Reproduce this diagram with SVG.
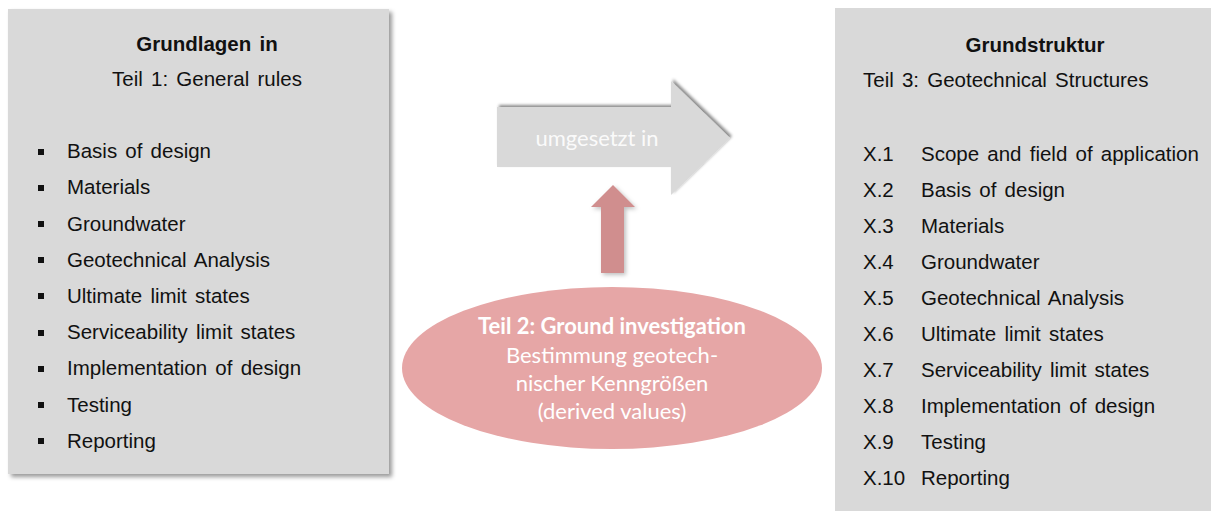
<svg xmlns="http://www.w3.org/2000/svg" width="1211" height="511" viewBox="0 0 1211 511">
<style>
.t{font-family:"Liberation Sans",Arial,sans-serif;font-size:20.5px;fill:#111;word-spacing:2.5px}
.b{font-weight:bold}
.c{font-family:Lato,"Open Sans",sans-serif;fill:#fff}
</style>
<defs>
<filter id="sh" x="-5%" y="-5%" width="115%" height="115%">
<feDropShadow dx="3" dy="3" stdDeviation="2" flood-color="#000" flood-opacity="0.4"/>
</filter>
<filter id="ash" x="-10%" y="-20%" width="130%" height="140%">
<feDropShadow dx="2" dy="-2" stdDeviation="1.5" flood-color="#000" flood-opacity="0.45"/>
</filter>
<filter id="ush" x="-20%" y="-10%" width="150%" height="130%">
<feDropShadow dx="2" dy="2" stdDeviation="2" flood-color="#000" flood-opacity="0.25"/>
</filter>
</defs>
<rect width="1211" height="511" fill="#fff"/>
<g id="left-box">
<rect x="8" y="9" width="381" height="465" fill="#d9d9d9" filter="url(#sh)"/>
<text class="t b" x="207" y="51" text-anchor="middle">Grundlagen in</text>
<text class="t" x="207" y="86" text-anchor="middle">Teil 1: General rules</text>
<g fill="#111">
<rect x="38" y="149" width="6" height="6"/>
<rect x="38" y="185" width="6" height="6"/>
<rect x="38" y="221" width="6" height="6"/>
<rect x="38" y="257" width="6" height="6"/>
<rect x="38" y="293" width="6" height="6"/>
<rect x="38" y="330" width="6" height="6"/>
<rect x="38" y="366" width="6" height="6"/>
<rect x="38" y="402" width="6" height="6"/>
<rect x="38" y="438" width="6" height="6"/>
</g>
<text class="t" x="67" y="158">Basis of design</text>
<text class="t" x="67" y="194">Materials</text>
<text class="t" x="67" y="231">Groundwater</text>
<text class="t" x="67" y="267">Geotechnical Analysis</text>
<text class="t" x="67" y="303">Ultimate limit states</text>
<text class="t" x="67" y="339">Serviceability limit states</text>
<text class="t" x="67" y="375">Implementation of design</text>
<text class="t" x="67" y="412">Testing</text>
<text class="t" x="67" y="448">Reporting</text>
</g>
<g id="right-box">
<rect x="835" y="8" width="390" height="520" fill="#d9d9d9"/>
<text class="t b" x="1035" y="52" text-anchor="middle">Grundstruktur</text>
<text class="t" x="863" y="87">Teil 3: Geotechnical Structures</text>
<text class="t" x="863" y="161">X.1</text><text class="t" x="921" y="161">Scope and field of application</text>
<text class="t" x="863" y="197">X.2</text><text class="t" x="921" y="197">Basis of design</text>
<text class="t" x="863" y="233">X.3</text><text class="t" x="921" y="233">Materials</text>
<text class="t" x="863" y="269">X.4</text><text class="t" x="921" y="269">Groundwater</text>
<text class="t" x="863" y="305">X.5</text><text class="t" x="921" y="305">Geotechnical Analysis</text>
<text class="t" x="863" y="341">X.6</text><text class="t" x="921" y="341">Ultimate limit states</text>
<text class="t" x="863" y="377">X.7</text><text class="t" x="921" y="377">Serviceability limit states</text>
<text class="t" x="863" y="413">X.8</text><text class="t" x="921" y="413">Implementation of design</text>
<text class="t" x="863" y="449">X.9</text><text class="t" x="921" y="449">Testing</text>
<text class="t" x="863" y="485">X.10</text><text class="t" x="921" y="485">Reporting</text>
</g>
<g id="connectors">
<g id="arrow-umgesetzt">
<polygon points="497,107 671,107 671,81 730,138 671,195 671,167 497,167" fill="#d9d9d9" filter="url(#ash)"/>
<text class="c" x="597" y="146" font-size="22" text-anchor="middle" fill-opacity="0.9">umgesetzt in</text>
</g>
<g id="arrow-up">
<polygon points="601,273 601,207 591,207 613,185 635,207 624,207 624,273" fill="#d08e8e" filter="url(#ush)"/>
</g>
</g>
<g id="ground-investigation">
<ellipse cx="612" cy="368" rx="210" ry="81" fill="#e6a6a6"/>
<text class="c" x="612" y="334" font-size="22" font-weight="bold" text-anchor="middle">Teil 2: Ground investigation</text>
<text class="c" x="612" y="363" font-size="22" text-anchor="middle">Bestimmung geotech-</text>
<text class="c" x="612" y="391" font-size="22" text-anchor="middle">nischer Kenngrößen</text>
<text class="c" x="612" y="419" font-size="22" text-anchor="middle">(derived values)</text>
</g>
</svg>
